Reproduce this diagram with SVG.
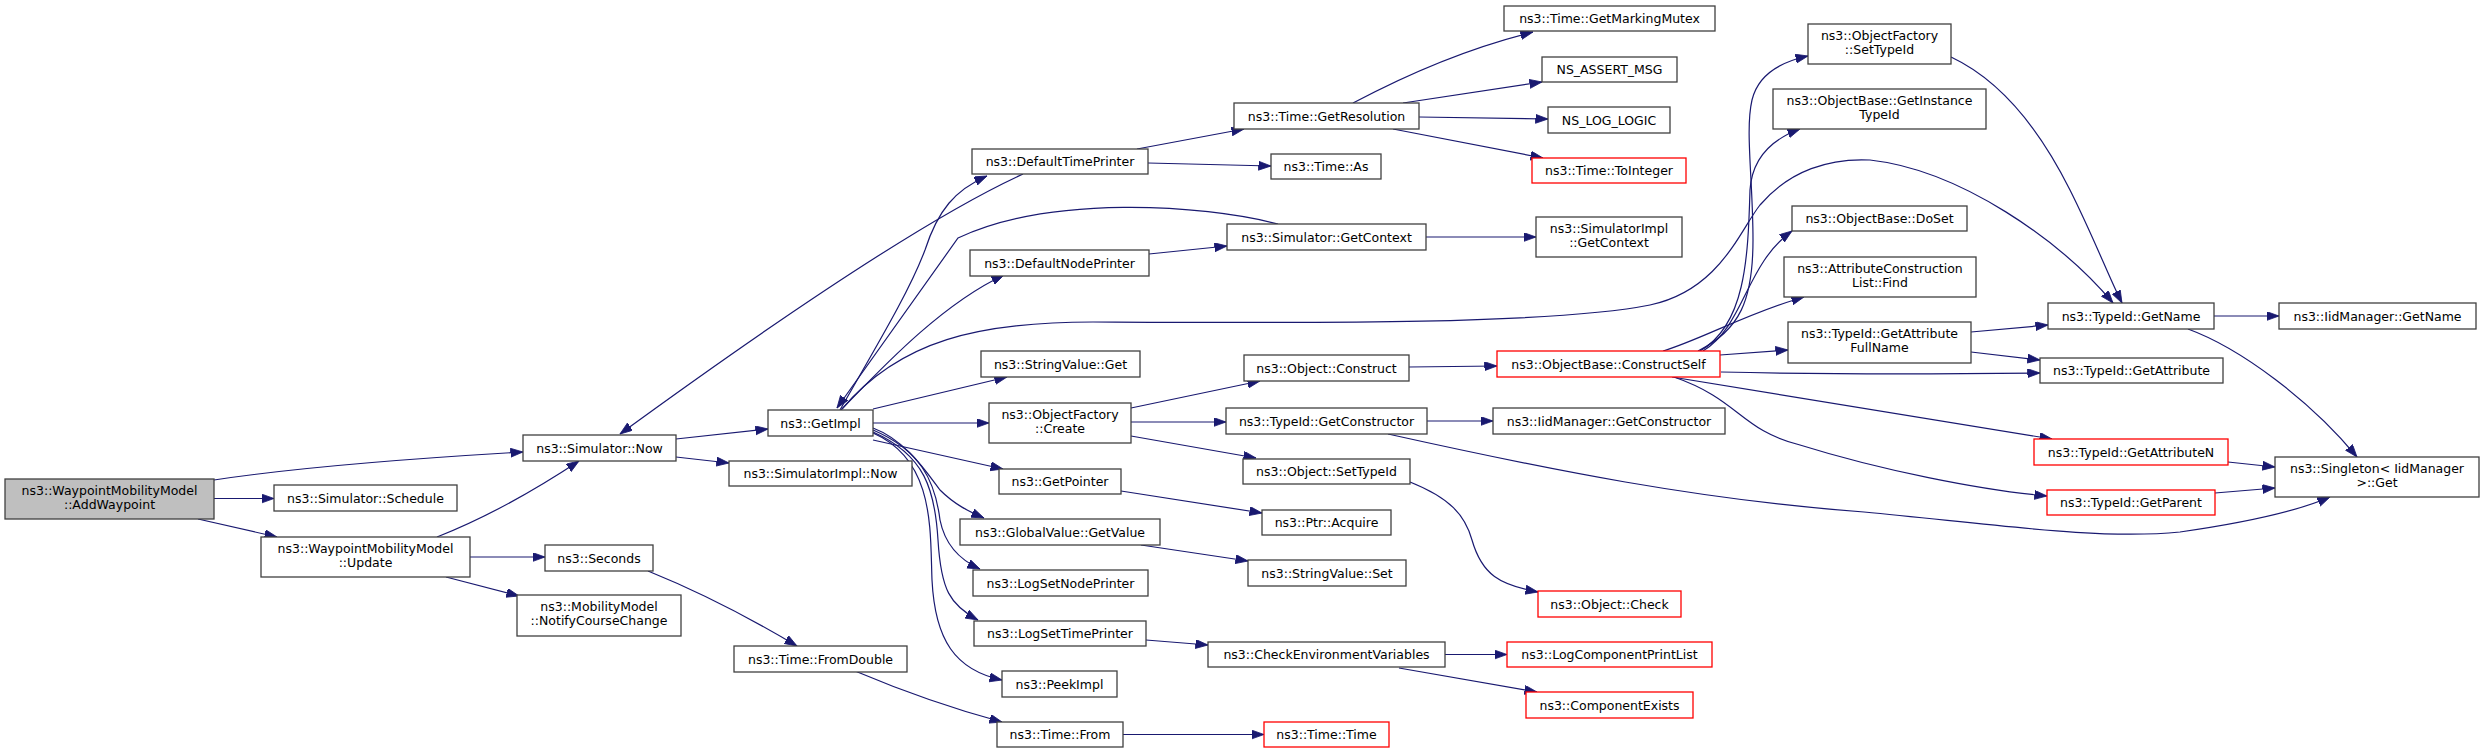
<svg xmlns="http://www.w3.org/2000/svg" width="2484" height="753" viewBox="0 0 2484 753">
<style>
.n rect{fill:#ffffff;stroke:#404040;stroke-width:1.3}
.n.r rect{stroke:#ff0000}
.n.root rect{fill:#bfbfbf;stroke:#404040}
text{font-family:"DejaVu Sans","Liberation Sans",sans-serif;font-size:12.5px;text-anchor:middle;fill:#000000}
.e path{fill:none;stroke:#191970;stroke-width:1.2;marker-end:url(#a)}
</style>
<defs>
<marker id="a" markerUnits="userSpaceOnUse" markerWidth="14" markerHeight="10" refX="12.5" refY="4.5" orient="auto">
<path d="M0,0 L12.5,4.5 L0,9 z" fill="#191970" stroke="#191970" stroke-width="0.8"/>
</marker>
</defs>
<rect width="2484" height="753" fill="#ffffff"/>
<g id="edges" class="e">
<path d="M214,480 C300,467 420,458 523,452"/>
<path d="M214,498.5 L274,498.5"/>
<path d="M198,519 L277,537"/>
<path d="M437,537 C470,524 520,500 579,461"/>
<path d="M470,557 L545,557"/>
<path d="M446,577 L519,596"/>
<path d="M676,439 L768,429"/>
<path d="M676,457 L729,463"/>
<path d="M648,571 C690,588 740,612 797,646"/>
<path d="M855,671 C900,690 950,708 1002,722"/>
<path d="M1123,734.5 L1264,734.5"/>
<path d="M840,410 C880,340 910,290 925,250 C938,210 955,190 987,176"/>
<path d="M1278,224 C1200,204 1050,195 958,238 L837,408"/>
<path d="M841,410 C880,370 940,305 1004,275"/>
<path d="M1023,174 Q900,230 620,434"/>
<path d="M1137,149 L1244,129"/>
<path d="M1148,163 L1271,166"/>
<path d="M1149,254 L1227,246"/>
<path d="M1353,103 C1400,78 1460,50 1533,32"/>
<path d="M1403,103 L1542,82"/>
<path d="M1419,117 L1548,119"/>
<path d="M1393,129 L1543,158"/>
<path d="M1426,237 L1536,237"/>
<path d="M873,409 L1007,377"/>
<path d="M873,423 L989,423"/>
<path d="M873,440 L1003,469"/>
<path d="M873,428 C905,440 925,470 940,490 C955,505 970,512 984,518"/>
<path d="M873,430 C920,450 935,480 940,520 C945,545 960,560 980,569"/>
<path d="M873,432 C925,455 935,490 938,540 C941,590 950,605 978,620"/>
<path d="M873,433 C935,460 930,530 932,580 C935,640 955,670 1002,680"/>
<path d="M842,409 C900,340 980,322 1093,322 C1300,323 1550,325 1650,305 C1720,290 1740,230 1760,205 C1790,170 1830,158 1870,160 C1960,170 2060,240 2113,303"/>
<path d="M1951,57 C2000,80 2040,130 2070,190 C2095,240 2110,280 2122,303"/>
<path d="M2214,316 L2279,316"/>
<path d="M2188,329 C2240,348 2310,400 2357,457"/>
<path d="M1971,332 L2048,325"/>
<path d="M1971,352 L2040,360"/>
<path d="M1721,372 C1850,375 1950,374 2040,373"/>
<path d="M1720,355 L1788,350"/>
<path d="M1663,351 C1700,340 1750,312 1804,297"/>
<path d="M1703,351 C1745,325 1745,265 1792,231"/>
<path d="M1700,351 C1745,325 1748,260 1750,190 C1752,160 1770,140 1800,129"/>
<path d="M1698,351 C1740,330 1753,300 1753,240 C1753,180 1745,130 1752,100 C1758,75 1780,62 1808,56"/>
<path d="M1672,377 L2052,439"/>
<path d="M1674,377 C1740,400 1740,430 1800,445 C1880,470 1980,490 2047,496"/>
<path d="M2228,462 L2275,467"/>
<path d="M2215,493 L2275,488"/>
<path d="M1388,434 C1550,470 1700,500 1864,512 C2000,525 2100,540 2180,532 C2250,522 2300,510 2330,497"/>
<path d="M1131,408 L1260,381"/>
<path d="M1131,422 L1226,422"/>
<path d="M1131,436 L1256,458"/>
<path d="M1409,367 L1497,366"/>
<path d="M1427,421 L1493,421"/>
<path d="M1410,482 C1450,498 1465,515 1472,540 C1482,575 1500,585 1538,592"/>
<path d="M1121,491 L1262,513"/>
<path d="M1141,545 L1248,561"/>
<path d="M1146,640 L1208,645"/>
<path d="M1445,654.5 L1507,654.5"/>
<path d="M1399,668 L1537,692"/>
</g>
<g id="n1" class="n root"><rect x="5" y="479" width="209" height="40"/><text x="109.5" y="494.5">ns3::WaypointMobilityModel</text><text x="109.5" y="508.5">::AddWaypoint</text></g>
<g id="n2" class="n"><rect x="274" y="485" width="183" height="26"/><text x="365.5" y="502.5">ns3::Simulator::Schedule</text></g>
<g id="n3" class="n"><rect x="261" y="537" width="209" height="40"/><text x="365.5" y="552.5">ns3::WaypointMobilityModel</text><text x="365.5" y="566.5">::Update</text></g>
<g id="n4" class="n"><rect x="523" y="435" width="153" height="26"/><text x="599.5" y="452.5">ns3::Simulator::Now</text></g>
<g id="n5" class="n"><rect x="545" y="545" width="108" height="26"/><text x="599" y="562.5">ns3::Seconds</text></g>
<g id="n6" class="n"><rect x="517" y="595" width="164" height="41"/><text x="599" y="610.5">ns3::MobilityModel</text><text x="599" y="624.5">::NotifyCourseChange</text></g>
<g id="n7" class="n"><rect x="768" y="410" width="105" height="26"/><text x="820.5" y="427.5">ns3::GetImpl</text></g>
<g id="n8" class="n"><rect x="729" y="461" width="183" height="25"/><text x="820.5" y="478">ns3::SimulatorImpl::Now</text></g>
<g id="n9" class="n"><rect x="734" y="646" width="173" height="26"/><text x="820.5" y="663.5">ns3::Time::FromDouble</text></g>
<g id="n10" class="n"><rect x="972" y="149" width="176" height="25"/><text x="1060" y="166">ns3::DefaultTimePrinter</text></g>
<g id="n11" class="n"><rect x="970" y="250" width="179" height="26"/><text x="1059.5" y="267.5">ns3::DefaultNodePrinter</text></g>
<g id="n12" class="n"><rect x="981" y="351" width="159" height="26"/><text x="1060.5" y="368.5">ns3::StringValue::Get</text></g>
<g id="n13" class="n"><rect x="989" y="403" width="142" height="40"/><text x="1060" y="418.5">ns3::ObjectFactory</text><text x="1060" y="432.5">::Create</text></g>
<g id="n14" class="n"><rect x="999" y="469" width="122" height="25"/><text x="1060" y="486">ns3::GetPointer</text></g>
<g id="n15" class="n"><rect x="960" y="519" width="200" height="26"/><text x="1060" y="536.5">ns3::GlobalValue::GetValue</text></g>
<g id="n16" class="n"><rect x="973" y="570" width="175" height="26"/><text x="1060.5" y="587.5">ns3::LogSetNodePrinter</text></g>
<g id="n17" class="n"><rect x="974" y="621" width="172" height="25"/><text x="1060" y="638">ns3::LogSetTimePrinter</text></g>
<g id="n18" class="n"><rect x="1002" y="671" width="115" height="26"/><text x="1059.5" y="688.5">ns3::PeekImpl</text></g>
<g id="n19" class="n"><rect x="997" y="722" width="126" height="25"/><text x="1060" y="739">ns3::Time::From</text></g>
<g id="n20" class="n"><rect x="1234" y="103" width="185" height="26"/><text x="1326.5" y="120.5">ns3::Time::GetResolution</text></g>
<g id="n21" class="n"><rect x="1271" y="154" width="110" height="25"/><text x="1326" y="171">ns3::Time::As</text></g>
<g id="n22" class="n"><rect x="1227" y="224" width="199" height="26"/><text x="1326.5" y="241.5">ns3::Simulator::GetContext</text></g>
<g id="n23" class="n"><rect x="1244" y="355" width="165" height="26"/><text x="1326.5" y="372.5">ns3::Object::Construct</text></g>
<g id="n24" class="n"><rect x="1226" y="408" width="201" height="26"/><text x="1326.5" y="425.5">ns3::TypeId::GetConstructor</text></g>
<g id="n25" class="n"><rect x="1243" y="459" width="167" height="25"/><text x="1326.5" y="476">ns3::Object::SetTypeId</text></g>
<g id="n26" class="n"><rect x="1262" y="510" width="129" height="25"/><text x="1326.5" y="527">ns3::Ptr::Acquire</text></g>
<g id="n27" class="n"><rect x="1248" y="560" width="158" height="26"/><text x="1327" y="577.5">ns3::StringValue::Set</text></g>
<g id="n28" class="n"><rect x="1208" y="642" width="237" height="25"/><text x="1326.5" y="659">ns3::CheckEnvironmentVariables</text></g>
<g id="n29" class="n r"><rect x="1264" y="722" width="125" height="25"/><text x="1326.5" y="739">ns3::Time::Time</text></g>
<g id="n30" class="n"><rect x="1504" y="6" width="211" height="25"/><text x="1609.5" y="23">ns3::Time::GetMarkingMutex</text></g>
<g id="n31" class="n"><rect x="1542" y="57" width="135" height="25"/><text x="1609.5" y="74">NS_ASSERT_MSG</text></g>
<g id="n32" class="n"><rect x="1548" y="107" width="122" height="26"/><text x="1609" y="124.5">NS_LOG_LOGIC</text></g>
<g id="n33" class="n r"><rect x="1532" y="158" width="154" height="25"/><text x="1609" y="175">ns3::Time::ToInteger</text></g>
<g id="n34" class="n"><rect x="1536" y="217" width="146" height="40"/><text x="1609" y="232.5">ns3::SimulatorImpl</text><text x="1609" y="246.5">::GetContext</text></g>
<g id="n35" class="n r"><rect x="1497" y="351" width="223" height="26"/><text x="1608.5" y="368.5">ns3::ObjectBase::ConstructSelf</text></g>
<g id="n36" class="n"><rect x="1493" y="408" width="232" height="26"/><text x="1609" y="425.5">ns3::IidManager::GetConstructor</text></g>
<g id="n37" class="n r"><rect x="1538" y="591" width="143" height="26"/><text x="1609.5" y="608.5">ns3::Object::Check</text></g>
<g id="n38" class="n r"><rect x="1507" y="642" width="205" height="25"/><text x="1609.5" y="659">ns3::LogComponentPrintList</text></g>
<g id="n39" class="n r"><rect x="1526" y="692" width="167" height="26"/><text x="1609.5" y="709.5">ns3::ComponentExists</text></g>
<g id="n40" class="n"><rect x="1808" y="24" width="143" height="40"/><text x="1879.5" y="39.5">ns3::ObjectFactory</text><text x="1879.5" y="53.5">::SetTypeId</text></g>
<g id="n41" class="n"><rect x="1773" y="89" width="213" height="40"/><text x="1879.5" y="104.5">ns3::ObjectBase::GetInstance</text><text x="1879.5" y="118.5">TypeId</text></g>
<g id="n42" class="n"><rect x="1792" y="206" width="175" height="25"/><text x="1879.5" y="223">ns3::ObjectBase::DoSet</text></g>
<g id="n43" class="n"><rect x="1784" y="257" width="192" height="40"/><text x="1880" y="272.5">ns3::AttributeConstruction</text><text x="1880" y="286.5">List::Find</text></g>
<g id="n44" class="n"><rect x="1788" y="322" width="183" height="41"/><text x="1879.5" y="337.5">ns3::TypeId::GetAttribute</text><text x="1879.5" y="351.5">FullName</text></g>
<g id="n45" class="n"><rect x="2048" y="303" width="166" height="26"/><text x="2131" y="320.5">ns3::TypeId::GetName</text></g>
<g id="n46" class="n"><rect x="2279" y="303" width="197" height="26"/><text x="2377.5" y="320.5">ns3::IidManager::GetName</text></g>
<g id="n47" class="n"><rect x="2040" y="358" width="183" height="25"/><text x="2131.5" y="375">ns3::TypeId::GetAttribute</text></g>
<g id="n48" class="n r"><rect x="2034" y="439" width="194" height="26"/><text x="2131" y="456.5">ns3::TypeId::GetAttributeN</text></g>
<g id="n49" class="n r"><rect x="2047" y="490" width="168" height="25"/><text x="2131" y="507">ns3::TypeId::GetParent</text></g>
<g id="n50" class="n"><rect x="2275" y="457" width="204" height="40"/><text x="2377" y="472.5">ns3::Singleton&lt; IidManager</text><text x="2377" y="486.5">&gt;::Get</text></g>
</svg>
